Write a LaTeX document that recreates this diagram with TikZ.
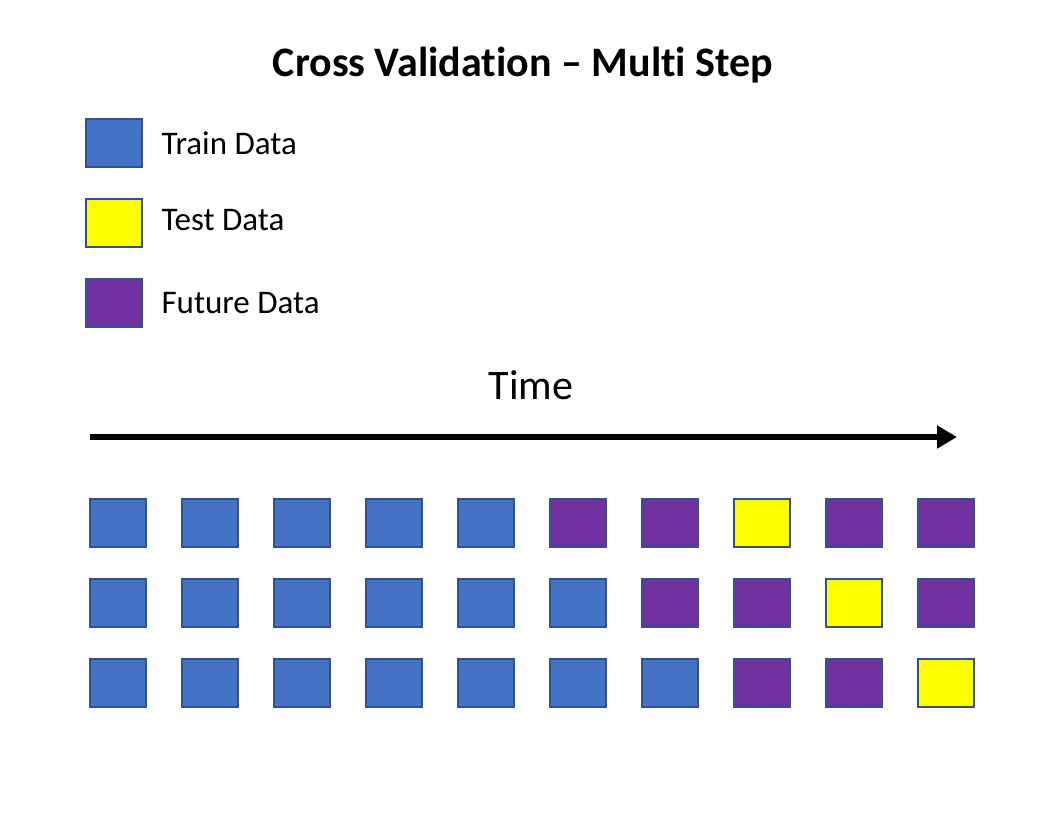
\documentclass[tikz,border=0pt]{standalone}
\usepackage{fontspec}
\setmainfont{Carlito}[Ligatures=CommonOff]
\usetikzlibrary{arrows.meta}
\definecolor{train}{HTML}{4472C4}
\definecolor{test}{HTML}{FFFF00}
\definecolor{future}{HTML}{7030A0}
\definecolor{edge}{HTML}{2F528F}
\tikzset{
  cell/.style={draw=edge, line width=1.6pt, minimum width=56pt, minimum height=48pt, inner sep=0pt},
  label/.style={anchor=west, font=\fontsize{33}{38}\selectfont}
}
\begin{document}
\begin{tikzpicture}[x=1pt,y=-1pt]
  \useasboundingbox (0,0) rectangle (1064,830);
  \node (title) at (523,65) {\fontsize{42}{48}\selectfont\bfseries Cross Validation -- Multi Step};
  % legend
  \draw
    (114,143) node[cell, fill=train] (ktrain){}
    (114,223) node[cell, fill=test] (ktest){}
    (114,303) node[cell, fill=future] (kfuture){};
  \node[label] (ltrain) at (158,143) {Train Data};
  \node[label] (ltest) at (158,220) {Test Data};
  \node[label] (lfuture) at (158,303) {Future Data};
  % time axis
  \node (time) at (531,385) {\fontsize{42}{48}\selectfont Time};
  \coordinate (t0) at (90,437);
  \coordinate (t1) at (957,437);
  \draw[line width=6pt, -{Triangle[length=20pt,width=22pt]}] (t0) -- (t1);
  % splits
  \foreach \c [count=\i] in {train,train,train,train,train,future,future,test,future,future}
    \node[cell, fill=\c] (a\i) at (26+92*\i,523) {};
  \foreach \c [count=\i] in {train,train,train,train,train,train,future,future,test,future}
    \node[cell, fill=\c] (b\i) at (26+92*\i,603) {};
  \foreach \c [count=\i] in {train,train,train,train,train,train,train,future,future,test}
    \node[cell, fill=\c] (c\i) at (26+92*\i,683) {};
\end{tikzpicture}
\end{document}
